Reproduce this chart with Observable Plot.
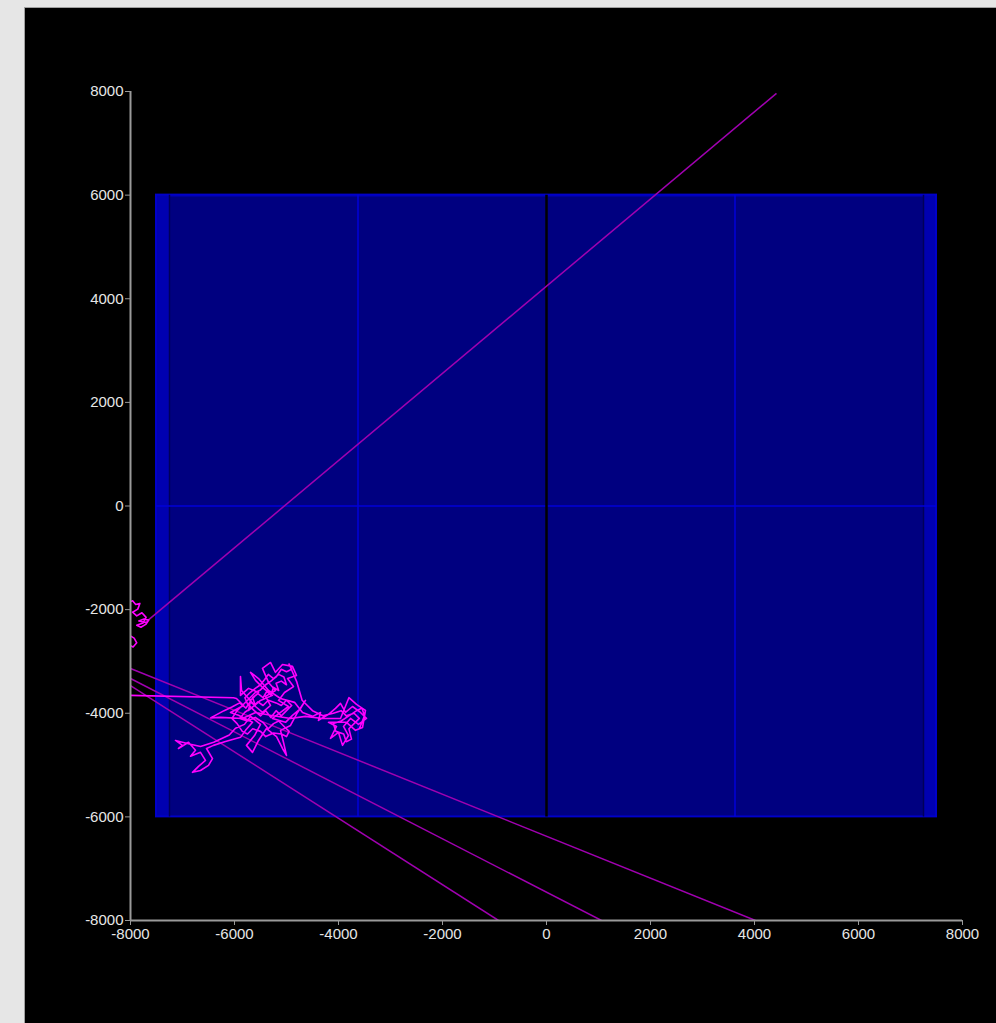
<!DOCTYPE html>
<html>
<head>
<meta charset="utf-8">
<script src="https://cdn.jsdelivr.net/npm/d3@7"></script>
<script src="https://cdn.jsdelivr.net/npm/@observablehq/plot@0.6"></script>
<style>
html,body{margin:0;padding:0;background:#e6e6e6;width:996px;height:1023px;overflow:hidden}
#panel{position:absolute;left:24px;top:7px;width:971px;height:1015px;background:#000;border-left:1px solid #a0a0a0;border-top:1px solid #a0a0a0;overflow:hidden}
#panel svg{display:block}
</style>
</head>
<body>
<div id="panel"></div>
<script>
// Axis ticks
const xTicks = [-8000, -6000, -4000, -2000, 0, 2000, 4000, 6000, 8000];
const yTicks = [-8000, -6000, -4000, -2000, 0, 2000, 4000, 6000, 8000];

// Field (outer area, inner area, grid lines)
const fieldOuter = [{x1: -7500, x2: 7500, y1: -6000, y2: 6000}];
const fieldInner = [{x1: -7250, x2: 7250, y1: -6000, y2: 6000}];
const fieldEdgesX = [-7250, 7250];
const fieldGridX = [-3625, 3625];
const fieldCenterX = [0];
const fieldMidY = [0];

// Trajectory: small cluster at left edge
const leftTrack = [
  [-8200, -2600], [-7950, -2720], [-7880, -2640], [-7930, -2550], [-8100, -2450],
  [-8150, -2200], [-8150, -1900], [-7960, -1830], [-7900, -1900], [-7820, -1880],
  [-7860, -1990], [-7960, -2050], [-7880, -2120], [-7780, -2060], [-7700, -2150],
  [-7760, -2260], [-7880, -2300], [-7800, -2340], [-7700, -2280], [-7650, -2200],
  [-7740, -2180], [-7840, -2220], [-7712, -2247]
];

// Trajectory: main cluster
const mainTrack = [
  [-8000, -3655], [-6020, -3700], [-5962, -3715], [-5827, -3850], [-6077, -3985],
  [-5923, -4040], [-5654, -4175], [-5788, -4330], [-5885, -4465], [-6173, -4545],
  [-6404, -4620], [-6538, -4680], [-6423, -4875], [-6500, -5005], [-6654, -5105],
  [-6808, -5140], [-6692, -5025], [-6558, -4910], [-6654, -4755], [-6846, -4830],
  [-6750, -4715], [-6885, -4560], [-7077, -4680], [-7000, -4620], [-7135, -4525],
  [-6846, -4600], [-6654, -4640], [-6400, -4560], [-6100, -4420], [-5981, -4290],
  [-5808, -4215], [-5692, -4060], [-5500, -4215], [-5615, -4430], [-5770, -4620],
  [-5654, -4755], [-5538, -4525], [-5385, -4295], [-5192, -4450], [-5077, -4680],
  [-5000, -4815], [-5058, -4560], [-5115, -4330], [-4923, -4235], [-4788, -3985],
  [-4635, -3752], [-4731, -3910], [-4885, -4040], [-5019, -4175], [-5270, -4100],
  [-5115, -3985], [-4962, -3870], [-5154, -3752], [-5038, -3600], [-4865, -3485],
  [-4980, -3330], [-4808, -3270], [-4885, -3095], [-5077, -3060], [-5212, -3210],
  [-5308, -3020], [-5462, -3135], [-5346, -3405], [-5212, -3560], [-5404, -3675],
  [-5308, -3850], [-5462, -3985], [-5596, -3870], [-5865, -3560], [-5885, -3290],
  [-5885, -3655], [-5730, -3520], [-5538, -3600], [-5692, -3752], [-5730, -3945],
  [-5500, -3752], [-5270, -3655], [-5442, -3520], [-5596, -3366], [-5692, -3210],
  [-5538, -3330], [-5346, -3560], [-5115, -3715], [-4846, -3790], [-4692, -3985],
  [-4500, -4060], [-4346, -3985], [-4385, -4138], [-4192, -4020], [-4058, -3905],
  [-3962, -3810], [-3865, -3985], [-3731, -3870], [-3577, -3985], [-3462, -4100],
  [-3615, -4215], [-3769, -4100], [-3904, -4255], [-3808, -4430], [-3923, -4620],
  [-4000, -4370], [-4154, -4485], [-4038, -4255], [-4192, -4175], [-3846, -4175],
  [-3673, -4330], [-3538, -4275], [-3481, -3945], [-3654, -3830], [-3800, -3700],
  [-3962, -4100], [-4308, -4100], [-4635, -4060], [-4923, -4100], [-5308, -4040],
  [-5596, -3985], [-5846, -4100], [-6269, -4080], [-6460, -4090],
  [-6200, -3950], [-6050, -3880], [-5900, -3800], [-5780, -3900], [-5700, -3780],
  [-5600, -3850], [-5650, -3700], [-5550, -3620], [-5450, -3700], [-5380, -3580],
  [-5300, -3650], [-5250, -3500], [-5150, -3560], [-5200, -3420], [-5100, -3380],
  [-5000, -3450], [-5050, -3300], [-5150, -3250], [-5250, -3330], [-5350, -3250],
  [-5420, -3350], [-5500, -3450], [-5600, -3520], [-5700, -3600], [-5800, -3700],
  [-5750, -3820], [-5620, -3950], [-5500, -4050], [-5400, -3950], [-5300, -4080],
  [-5200, -3950], [-5100, -4050], [-5000, -3950], [-4900, -3850], [-5000, -3750],
  [-5100, -3850], [-5200, -3800], [-5350, -3750], [-5450, -3850], [-5550, -3780],
  [-5650, -3880], [-5800, -3980], [-5900, -4100], [-5750, -4150], [-5600, -4080],
  [-5450, -4180], [-5350, -4300], [-5250, -4200], [-5150, -4150], [-5050, -4250],
  [-4950, -4350], [-5000, -4450], [-5100, -4400], [-5250, -4380], [-5400, -4450],
  [-5500, -4350], [-5650, -4300], [-5750, -4400], [-5850, -4350], [-5950, -4200],
  [-6050, -4100], [-5950, -3950], [-5850, -3850], [-5700, -3700], [-5600, -3600],
  [-5500, -3550], [-5400, -3450], [-5300, -3380], [-5200, -3300], [-5100, -3150],
  [-5000, -3200], [-4900, -3150], [-4950, -3050], [-4800, -3400], [-4700, -3750],
  [-4500, -3950], [-4300, -4050], [-4100, -4000], [-3950, -3950], [-3850, -4050],
  [-3700, -4000], [-3600, -4100], [-3700, -4200], [-3800, -4300], [-3750, -4500],
  [-3850, -4550], [-3900, -4400], [-4050, -4350], [-4100, -4200], [-3950, -4150],
  [-3800, -4050], [-3650, -3950], [-3550, -3900], [-3500, -4050], [-3600, -4300]
];

// Trajectory: long jumps between positions (start x, start y, end x, end y)
const jumps = [
  [-7712, -2247, 4423, 7965],
  [-8000, -3135, 4019, -8000],
  [-8000, -3330, 1058, -8000],
  [-8000, -3465, -923, -8000]
];

const xMin = xTicks[0], xMax = xTicks[xTicks.length - 1];
const yMin = yTicks[0], yMax = yTicks[yTicks.length - 1];
const fy1 = fieldOuter[0].y1, fy2 = fieldOuter[0].y2;
const fx1 = fieldOuter[0].x1, fx2 = fieldOuter[0].x2;

const chart = Plot.plot({
  width: 971,
  height: 1015,
  marginLeft: 105,
  marginRight: 34,
  marginTop: 83,
  marginBottom: 103,
  x: {domain: [xMin, xMax]},
  y: {domain: [yMin, yMax]},
  style: {
    background: "#000",
    color: "#e6e6e6",
    fontFamily: "'Liberation Sans', Arial, sans-serif",
    fontSize: "15px",
    overflow: "visible"
  },
  marks: [
    Plot.rect(fieldOuter, {x1: "x1", x2: "x2", y1: "y1", y2: "y2", fill: "#0000b0", stroke: "#0000c8", strokeWidth: 2}),
    Plot.rect(fieldInner, {x1: "x1", x2: "x2", y1: "y1", y2: "y2", fill: "#000080", insetTop: 2, insetBottom: 1}),
    Plot.ruleX(fieldEdgesX, {y1: fy1, y2: fy2, stroke: "#000058", strokeWidth: 1.5}),
    Plot.ruleX(fieldGridX, {y1: fy1, y2: fy2, stroke: "#0000d8", strokeWidth: 1.5}),
    Plot.ruleY(fieldMidY, {x1: fx1, x2: fx2, stroke: "#0000d8", strokeWidth: 1.5}),
    Plot.ruleX(fieldCenterX, {y1: fy1, y2: fy2, stroke: "#000000", strokeWidth: 2.5}),
    Plot.link(jumps, {x1: d => d[0], y1: d => d[1], x2: d => d[2], y2: d => d[3], stroke: "#a000b0", strokeWidth: 1.5, clip: true}),
    Plot.line(leftTrack, {x: d => d[0], y: d => d[1], stroke: "#ff00ff", strokeWidth: 1.6, clip: true}),
    Plot.line(mainTrack, {x: d => d[0], y: d => d[1], stroke: "#ff00ff", strokeWidth: 1.6, clip: true}),
    Plot.ruleY([yMin], {x1: xMin, x2: xMax, stroke: "#9a9a9a", strokeWidth: 2}),
    Plot.ruleX([xMin], {y1: yMin, y2: yMax, stroke: "#9a9a9a", strokeWidth: 2}),
    Plot.axisX(xTicks, {tickSize: 5, tickPadding: 3, stroke: "#9a9a9a", fill: "#e6e6e6", tickFormat: d => String(d)}),
    Plot.axisY(yTicks, {tickSize: 5, tickPadding: 2, stroke: "#9a9a9a", fill: "#e6e6e6", tickFormat: d => String(d)})
  ]
});
document.getElementById("panel").appendChild(chart);
</script>
</body>
</html>
